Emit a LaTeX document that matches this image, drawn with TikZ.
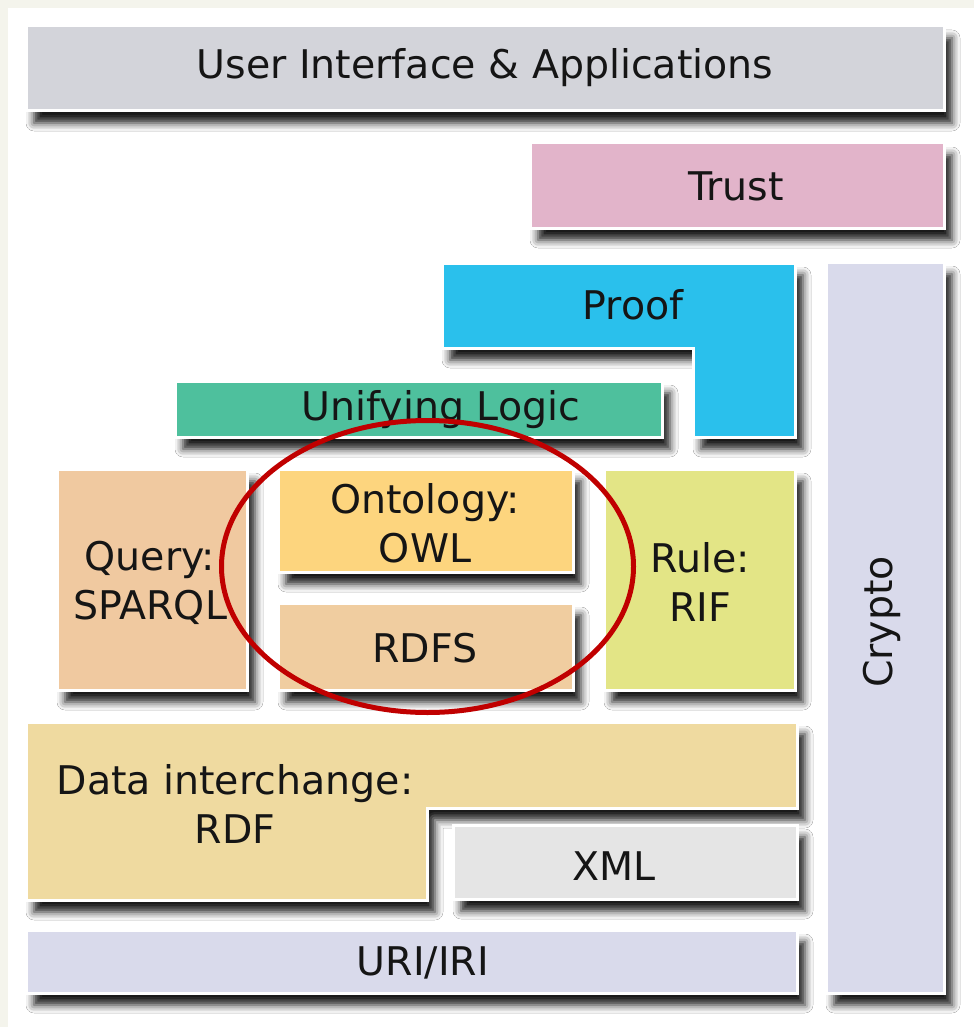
\documentclass[tikz,border=0pt]{standalone}
\usepackage{fontspec}
\setmainfont{DejaVu Sans}
\usetikzlibrary{shadows.blur}
\definecolor{bgcream}{HTML}{F4F4EC}
\definecolor{cUI}{HTML}{D3D4DA}
\definecolor{cTrust}{HTML}{E2B4CA}
\definecolor{cCrypto}{HTML}{D9DAEB}
\definecolor{cProof}{HTML}{2AC0EC}
\definecolor{cLogic}{HTML}{4EC09D}
\definecolor{cQuery}{HTML}{F0C9A0}
\definecolor{cOnto}{HTML}{FDD57E}
\definecolor{cRDFS}{HTML}{F0CDA0}
\definecolor{cRule}{HTML}{E3E586}
\definecolor{cRDF}{HTML}{EFDAA0}
\definecolor{cXML}{HTML}{E5E5E5}
\definecolor{cTxt}{HTML}{151515}
\definecolor{cRing}{HTML}{C00000}
\tikzset{
  layer/.style={draw=white, line width=3pt, inner sep=0pt, outer sep=0pt,
    blur shadow={shadow xshift=8pt, shadow yshift=-12pt, shadow blur radius=8pt, shadow opacity=90}},
  lbl/.style={text=cTxt, font=\fontsize{39.5}{49}\selectfont, align=center, inner sep=0pt},
}
\begin{document}
\begin{tikzpicture}[x=1pt,y=-1pt]
\useasboundingbox (0,0) rectangle (974,1027);
\fill[bgcream] (0,0) rectangle (974,1027);
\fill[white] (8,8) rectangle (974,1027);

% User interface
\node[layer, fill=cUI, minimum width=918pt, minimum height=85pt] (ui) at (485,68.5) {};
\node[lbl] (uit) at (485,68) {User Interface \& Applications};
% Trust
\node[layer, fill=cTrust, minimum width=414pt, minimum height=85pt] (trust) at (737,185.5) {};
\node[lbl] (trustt) at (736,186) {Trust};
% Crypto
\node[layer, fill=cCrypto, minimum width=118pt, minimum height=731pt] (crypto) at (885,627.5) {};
\node[lbl, rotate=90] (cryptot) at (882,622) {Crypto};
% Proof (L-shape)
\path[layer, fill=cProof] (442,263) -- (795,263) -- (795,437) -- (693,437) -- (693,348) -- (442,348) -- cycle;
\node[lbl] (proof) at (633,305) {Proof};
% Unifying logic
\node[layer, fill=cLogic, minimum width=487pt, minimum height=56pt] (logic) at (418.5,409) {};
\node[lbl] (logict) at (441,410) {Unifying Logic};
% Query
\node[layer, fill=cQuery, minimum width=190pt, minimum height=221pt] (query) at (152,579.5) {};
\node[lbl] (queryt) at (150,583) {Query:\\SPARQL};
% Ontology
\node[layer, fill=cOnto, minimum width=295pt, minimum height=103pt] (onto) at (425.5,520.5) {};
\node[lbl] (ontot) at (425,523) {Ontology:\\OWL};
% RDFS
\node[layer, fill=cRDFS, minimum width=295pt, minimum height=87pt] (rdfs) at (425.5,646.5) {};
\node[lbl] (rdfst) at (425,648) {RDFS};
% Rule
\node[layer, fill=cRule, minimum width=191pt, minimum height=221pt] (rule) at (699.5,579.5) {};
\node[lbl] (rulet) at (700,582) {Rule:\\RIF};
% Data interchange (L-shape)
\path[layer, fill=cRDF] (26,722) -- (797,722) -- (797,808) -- (427,808) -- (427,900) -- (26,900) -- cycle;
\node[lbl] (rdf) at (235,804) {Data interchange:\\RDF};
% XML
\node[layer, fill=cXML, minimum width=344pt, minimum height=74pt] (xml) at (625,862) {};
\node[lbl] (xmlt) at (614,866) {XML};
% URI/IRI
\node[layer, fill=cCrypto, minimum width=771pt, minimum height=63pt] (uri) at (411.5,961.5) {};
\node[lbl] (urit) at (423,963) {URI/IRI};
% Red ellipse
\draw[cRing, line width=5pt] (427.5,566.5) ellipse [x radius=206pt, y radius=146pt];
\end{tikzpicture}
\end{document}
